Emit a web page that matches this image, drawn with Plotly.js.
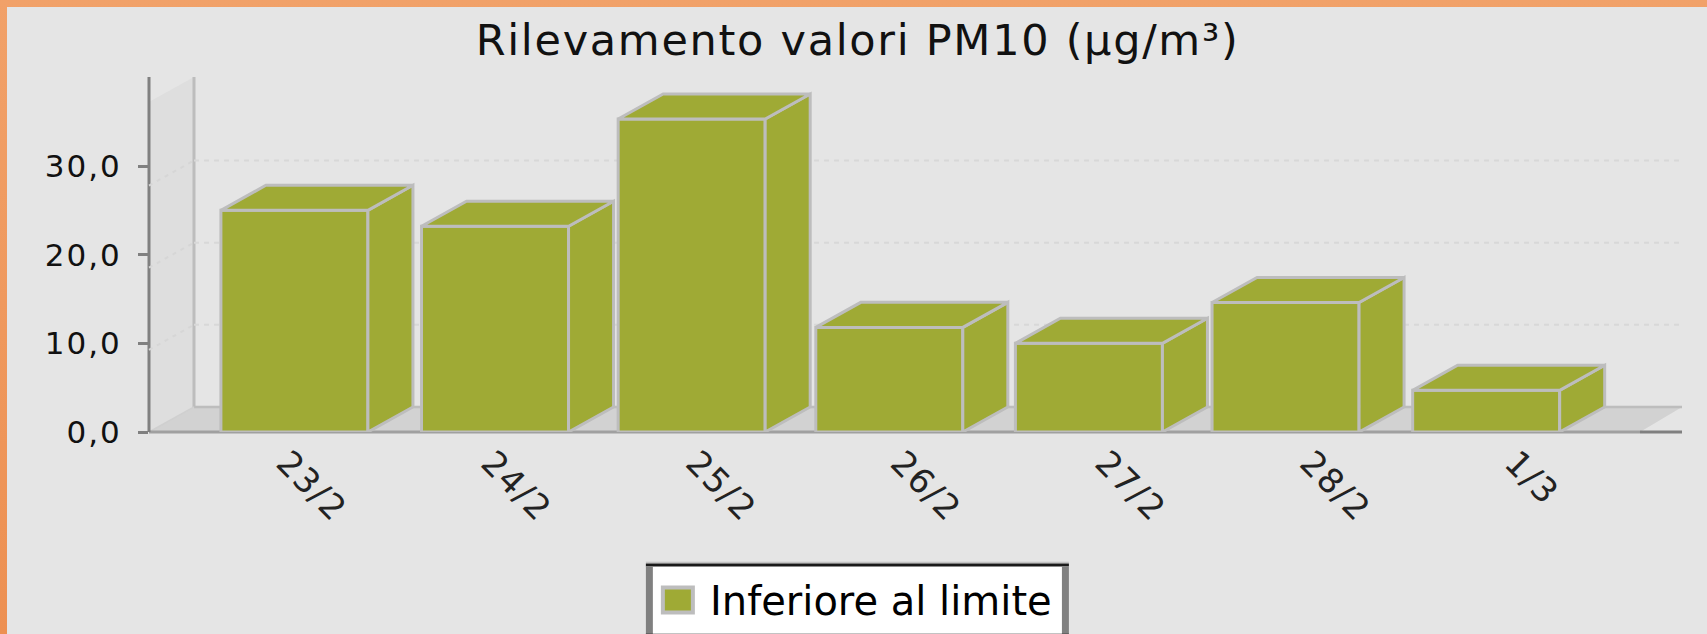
<!DOCTYPE html>
<html><head><meta charset="utf-8">
<script src="https://cdn.plot.ly/plotly-3.0.0.min.js"></script>
<style>
html,body{margin:0;padding:0;width:1707px;height:634px;overflow:hidden;background:linear-gradient(180deg,#f1a169 0%,#ed9052 100%);}
#chart{position:absolute;left:7px;top:7px;width:1700px;height:627px;}
#chart .gtitle{letter-spacing:1.7px;}
#chart .ytick text{letter-spacing:2px;}
#chart .xtick text{letter-spacing:1.5px;}
</style></head><body><div id="chart"></div>
<script>
const categories = ['23/2','24/2','25/2','26/2','27/2','28/2','1/3'];
const values = [25.0,23.2,35.3,11.8,10.0,14.6,4.7];
const barCenters = [0,1.01,2,2.995,4,4.99,6];
const seriesName = 'Inferiore al limite';
const titleText = 'Rilevamento valori PM10 (µg/m³)';
const yTicks = [0,10,20,30];
const yTickText = ['0,0','10,0','20,0','30,0'];

const W=1700,H=627,OFF=7;
const plotL=149.2,plotR=1682,plotT=77.3,plotB=431.7;
const pitch=198.6,firstC=294.6;
const labelStart=-0.04,labelPitch=1.0307;
const xRange=[(plotL-firstC)/pitch,(plotR-firstC)/pitch];
const yMax=40.04;
const barW=147/pitch;
const dx=45/pitch, dy=25/8.85, kBack=0.9266;
const xFrontEnd=(1640-firstC)/pitch;
const olive='#9faa35', edge='#bdbdbd';

const sideX=[],sideY=[],topX=[],topY=[];
categories.forEach((c,i)=>{
  const l=barCenters[i]-barW/2,r=barCenters[i]+barW/2,v=values[i];
  sideX.push(r,r+dx,r+dx,r,r,null); sideY.push(0,dy,v+dy,v,0,null);
  topX.push(l,l+dx,r+dx,r,l,null); topY.push(v,v+dy,v+dy,v,v,null);
});
const traces=[
 {type:'bar',x:barCenters,y:values,width:barW,marker:{color:olive,line:{color:edge,width:3}},hoverinfo:'y',name:seriesName},
 {type:'scatter',mode:'lines',x:sideX,y:sideY,fill:'toself',fillcolor:olive,line:{color:edge,width:3},hoverinfo:'skip'},
 {type:'scatter',mode:'lines',x:topX,y:topY,fill:'toself',fillcolor:olive,line:{color:edge,width:3},hoverinfo:'skip'}
];
const x0=xRange[0],x1=xRange[1];
// plot-unit position to the paper fraction, so backdrop pieces stay in one drawing order and are not clipped
const fx=x=>(x-x0)/(x1-x0);
const fy=y=>y/yMax;
const px=x=>(x-plotL)/(plotR-plotL);
const py=y=>(plotB-y)/(plotB-plotT);
const poly=p=>'M'+p.map(a=>fx(a[0])+','+fy(a[1])).join('L')+'Z';
const seg=(a,b,c,d,line)=>({type:'line',xref:'paper',yref:'paper',x0:fx(a),y0:fy(b),x1:fx(c),y1:fy(d),line:line,layer:'below'});
const area=(p,fill)=>({type:'path',xref:'paper',yref:'paper',path:poly(p),fillcolor:fill,line:{width:0},layer:'below'});
const shapes=[
 area([[x0,0],[x0+dx,dy],[x1,dy],[xFrontEnd,0]],'#d2d2d2'),
 area([[x0,0],[x0+dx,dy],[x0+dx,yMax],[x0,yMax-dy]],'#dedede'),
 seg(x0+dx,dy,x0+dx,yMax,{color:edge,width:3}),
 seg(x0+dx,dy,x1,dy,{color:edge,width:2.5}),
 seg(x0,0,x0+dx,dy,{color:'#cfcfcf',width:1.5}),
 seg(x0,0,xFrontEnd,0,{color:'#a0a0a0',width:3}),
 seg(xFrontEnd,0,x1,0,{color:'#808080',width:3}),
 seg(x0,0,x0,yMax,{color:'#808080',width:3})
];
[10,20,30].forEach(v=>{
  const yb=v*kBack;
  shapes.push(seg(x0,yb,x0+dx,yb+dy,{color:'#d6d6d6',width:2,dash:'4px,5px'}));
  shapes.push(seg(x0+dx,yb+dy,x1,yb+dy,{color:'#d8d8d8',width:2,dash:'5px,5px'}));
});
const rect=(a,b,c,d,fill,line)=>({type:'rect',xref:'paper',yref:'paper',x0:px(a),x1:px(c),y0:py(b),y1:py(d),fillcolor:fill,line:line||{width:0},layer:'above'});
shapes.push(rect(646,561,1069,640,'#ffffff'));
shapes.push(rect(646,561,1069,563,'#c4c4c4'));
shapes.push(rect(646,563,1069,566,'#1a1a1a'));
shapes.push(rect(646,566,653,634,'#808080'));
shapes.push(rect(1062,566,1069,634,'#808080'));
shapes.push(rect(646,633,1069,636,'#111111'));
shapes.push(rect(663,587,693,612,olive,{color:edge,width:4}));

const layout={
 width:W,height:H,autosize:false,showlegend:false,bargap:0,
 paper_bgcolor:'#e5e5e5',plot_bgcolor:'rgba(0,0,0,0)',
 margin:{l:plotL-OFF,r:W+OFF-plotR,t:plotT-OFF,b:H+OFF-plotB,pad:0},
 title:{text:titleText,font:{family:'DejaVu Sans',size:43,color:'#111'},x:(857.5-OFF)/W,xanchor:'center',y:1-(40-OFF)/H,yanchor:'middle'},
 xaxis:{type:'linear',range:xRange,tickmode:'array',tickvals:categories.map((c,i)=>labelStart+labelPitch*i),ticktext:categories,tickangle:45,ticks:'',showgrid:false,zeroline:false,showline:false,tickfont:{family:'DejaVu Sans',size:34,color:'#222'},ticklabelstandoff:3},
 yaxis:{range:[0,yMax],tickmode:'array',tickvals:yTicks,ticktext:yTickText,ticks:'outside',ticklen:10,tickwidth:3,tickcolor:'#808080',showgrid:false,zeroline:false,showline:false,tickfont:{family:'DejaVu Sans',size:31,color:'#111'},ticklabelstandoff:10},
 shapes:shapes,
 annotations:[{xref:'paper',yref:'paper',x:px(708),y:py(600),xanchor:'left',yanchor:'middle',text:seriesName,showarrow:false,font:{family:'DejaVu Sans',size:40,color:'#000'}}]
};
Plotly.newPlot('chart',traces,layout,{displayModeBar:false,staticPlot:true});
</script></body></html>
